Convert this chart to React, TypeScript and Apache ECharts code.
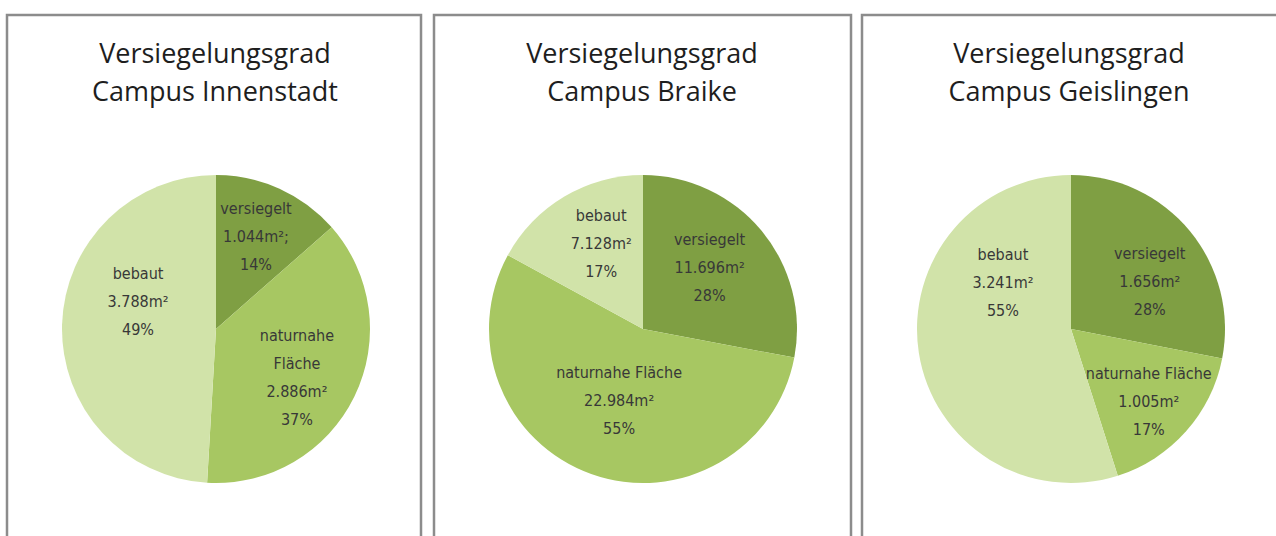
import React, { useEffect, useRef } from "react";
import * as echarts from "echarts";

const categories = ["versiegelt", "naturnahe Fläche", "bebaut"];
const campusNames = ["Campus Innenstadt", "Campus Braike", "Campus Geislingen"];
const innenstadtValues = [1044, 2886, 3788];
const braikeValues = [11696, 22984, 7128];
const geislingenValues = [1656, 1005, 3241];
const innenstadtLabelNames = ["versiegelt", "naturnahe\nFläche", "bebaut"];
const braikeLabelNames = ["versiegelt", "naturnahe Fläche", "bebaut"];
const geislingenLabelNames = ["versiegelt", "naturnahe Fläche", "bebaut"];
const innenstadtUnitSuffix = ["m²;", "m²", "m²"];
const braikeUnitSuffix = ["m²", "m²", "m²"];
const geislingenUnitSuffix = ["m²", "m²", "m²"];

const sliceColors = ["#7f9f43", "#a7c762", "#d1e3a9"];

const panels = [
  { values: innenstadtValues, names: innenstadtLabelNames, units: innenstadtUnitSuffix, x: 216, titleX: 215, offsets: [[7, -20], [9, 13], [2, -25]] },
  { values: braikeValues, names: braikeLabelNames, units: braikeUnitSuffix, x: 643, titleX: 642, offsets: [[5, -10], [3, -4], [-1, -17]] },
  { values: geislingenValues, names: geislingenLabelNames, units: geislingenUnitSuffix, x: 1071, titleX: 1069, offsets: [[17, 3], [18, 19], [11, -59]] },
];

const fmt = (v: number) => String(v).replace(/\B(?=(\d{3})+(?!\d))/g, ".");

export default function App() {
  const ref = useRef<HTMLDivElement>(null);
  useEffect(() => {
    if (!ref.current) return;
    const chart = echarts.init(ref.current, undefined, { renderer: "svg" });
    const borderRects = [
      [7, 15, 414, 600],
      [434, 15, 417, 600],
      [862, 15, 440, 600],
    ];
    chart.setOption({
      animation: false,
      backgroundColor: "#ffffff",
      title: panels.map((p, i) => ({
        text: "Versiegelungsgrad\n" + campusNames[i],
        left: p.titleX,
        top: 33,
        textAlign: "center",
        padding: 0,
        textStyle: {
          fontFamily: "Open Sans",
          fontSize: 27,
          fontWeight: "normal",
          color: "#1e1e1e",
          lineHeight: 38,
        },
      })),
      graphic: borderRects.map((r) => ({
        type: "rect",
        shape: { x: r[0], y: r[1], width: r[2], height: r[3] },
        style: { fill: "none", stroke: "#8c8c8c", lineWidth: 2.5 },
        silent: true,
      })),
      series: panels.map((p) => {
        const total = p.values.reduce((a, b) => a + b, 0);
        return {
          type: "pie",
          center: [p.x, 329],
          radius: 154,
          startAngle: 90,
          clockwise: true,
          silent: true,
          itemStyle: { borderWidth: 0 },
          label: {
            show: true,
            position: "inside",
            fontFamily: "'DejaVu Sans Condensed', 'Liberation Sans Narrow', sans-serif",
            fontSize: 16,
            lineHeight: 28,
            color: "#383838",
            align: "center",
          },
          labelLine: { show: false },
          data: p.values.map((v, j) => ({
            name: categories[j],
            value: v,
            itemStyle: { color: sliceColors[j] },
            label: {
              offset: p.offsets[j],
              formatter: () =>
                p.names[j] + "\n" + fmt(v) + p.units[j] + "\n" + Math.round((v / total) * 100) + "%",
            },
          })),
        };
      }),
    });
    return () => chart.dispose();
  }, []);
  return (
    <div
      ref={ref}
      style={{ position: "fixed", left: 0, top: 0, width: 1276, height: 536 }}
    />
  );
}
